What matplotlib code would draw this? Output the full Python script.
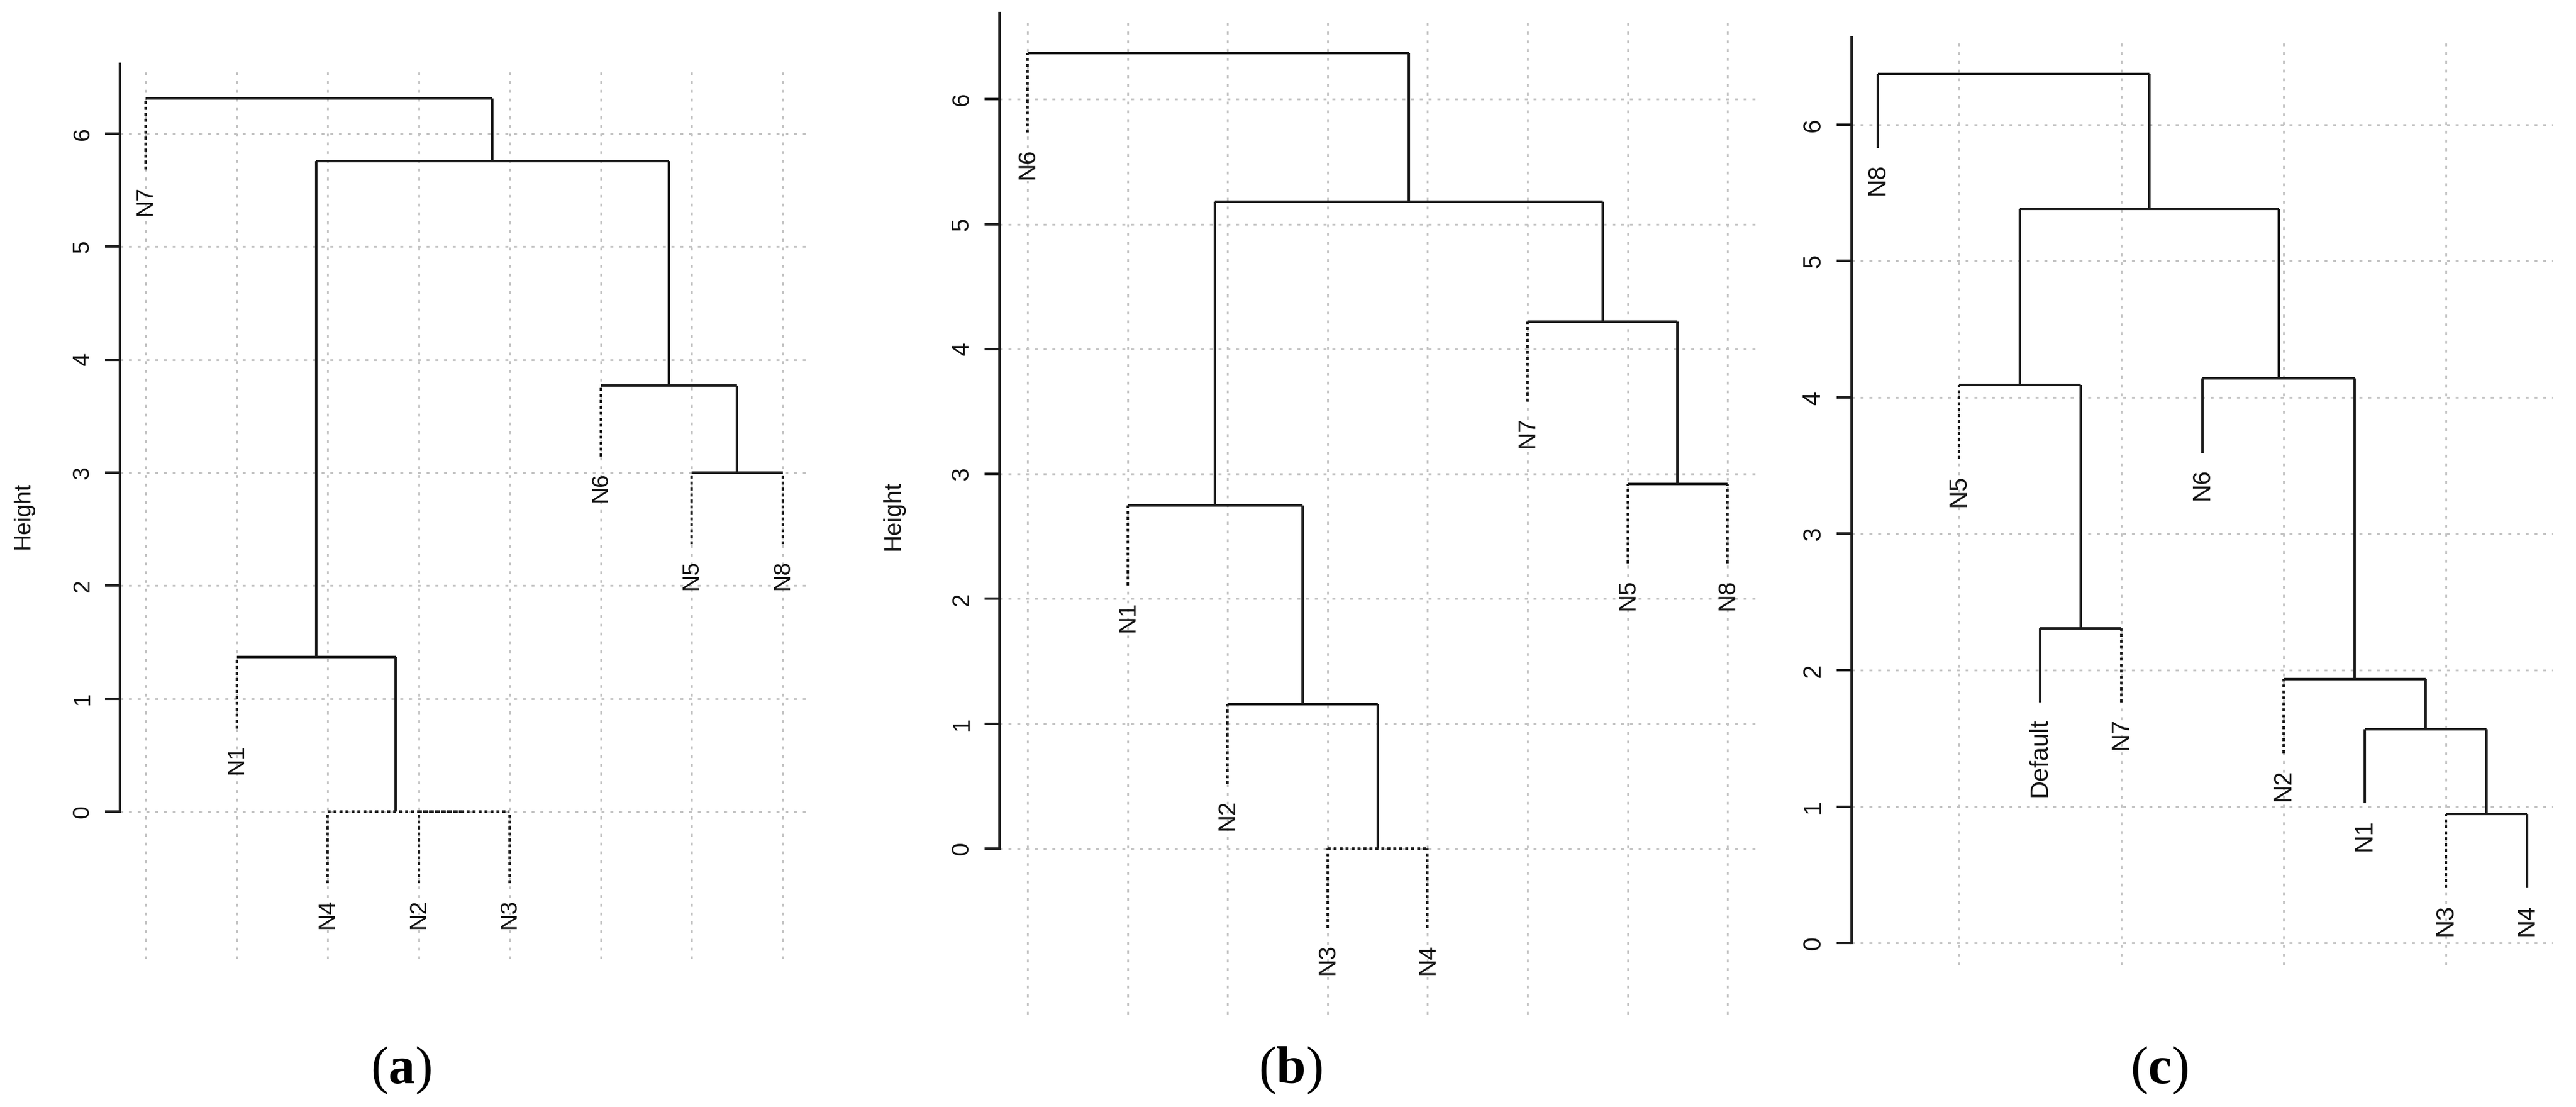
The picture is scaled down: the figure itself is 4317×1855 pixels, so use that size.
import matplotlib
matplotlib.use('Agg')
import matplotlib.pyplot as plt

plt.rcParams['font.family'] = ['Liberation Sans', 'DejaVu Sans']
plt.rcParams['mathtext.fontset'] = 'custom'
plt.rcParams['mathtext.rm'] = 'Liberation Serif'
plt.rcParams['mathtext.bf'] = 'Liberation Serif:bold'

# ---- data: leaf order, R-style merge matrix (neg = leaf, pos = earlier row), merge heights
labels_a = ['N7', 'N1', 'N4', 'N2', 'N3', 'N6', 'N5', 'N8']
merge_a = [(-4, -5), (-3, 1), (-2, 2), (-7, -8), (-6, 4), (3, 5), (-1, 6)]
height_a = [0.0, 0.0, 1.366, 3.0, 3.773, 5.757, 6.312]
dotted_a = [True, True, True, True, True, True, True, True]

labels_b = ['N6', 'N1', 'N2', 'N3', 'N4', 'N7', 'N5', 'N8']
merge_b = [(-4, -5), (-3, 1), (-2, 2), (-7, -8), (-6, 4), (3, 5), (-1, 6)]
height_b = [0.0, 1.155, 2.745, 2.921, 4.217, 5.179, 6.368]
dotted_b = [True, True, True, True, True, True, True, True]

labels_c = ['N8', 'N5', 'Default', 'N7', 'N6', 'N2', 'N1', 'N3', 'N4']
merge_c = [(-8, -9), (-7, 1), (-6, 2), (-3, -4), (-2, 4), (-5, 3), (5, 6), (-1, 7)]
height_c = [0.944, 1.566, 1.934, 2.308, 4.092, 4.138, 5.383, 6.374]
dotted_c = [False, True, False, True, False, True, False, True, False]

yticks = [0, 1, 2, 3, 4, 5, 6]
captions = ['a', 'b', 'c']

# ---- layout (pixels in the 4317x1855 picture)
W, H = 4317, 1855
layout = [
    dict(leaf1=244, step=152.5, y0=1360, unit=189.33, ylo=-1.305, yhi=6.586, axtop=6.62,
         fs=28, vgrid='all', ylab=(39, 864), cap=(672, 1794)),
    dict(leaf1=1722, step=167.6, y0=1422, unit=209.3, ylo=-1.326, yhi=6.64, axtop=6.69,
         fs=29, vgrid='all', ylab=(1497, 864), cap=(2162, 1794)),
    dict(leaf1=3147, step=136.0, y0=1580, unit=228.5, ylo=-0.162, yhi=6.6, axtop=6.64,
         fs=30, vgrid='even', ylab=None, cap=(3618, 1794)),
]

LINE = '#1c1c1c'
LW = 3.0
GRID = '#c4c4c4'


def draw_dendro(ax, labels, merge, heights, dotted, fs):
    hang = 0.1 * (max(heights) - min(heights))
    pos = {}
    for i, (a, b) in enumerate(merge):
        h = heights[i]
        xs = []
        for c in (a, b):
            if c < 0:
                x = -c
                ls = (0, (1.2, 1.2)) if dotted[x - 1] else '-'
                ax.plot([x, x], [h - hang, h], color=LINE, lw=LW, ls=ls, zorder=3,
                        solid_capstyle='butt')
                ax.annotate(labels[x - 1], (x, h - hang), xytext=(0, -19),
                            textcoords='offset points', rotation=90, ha='center',
                            va='top', fontsize=fs, color='#111111')
            else:
                x, hc = pos[c]
                ax.plot([x, x], [hc, h], color=LINE, lw=LW, zorder=3,
                        solid_capstyle='butt')
            xs.append(x)
        ls = (0, (1.2, 1.2)) if h == 0 else '-'
        ax.plot(xs, [h, h], color=LINE, lw=LW, ls=ls, zorder=3, solid_capstyle='butt')
        pos[i + 1] = ((xs[0] + xs[1]) / 2.0, h)


fig = plt.figure(figsize=(W / 100.0, H / 100.0), dpi=100)

panels = [(labels_a, merge_a, height_a, dotted_a),
          (labels_b, merge_b, height_b, dotted_b),
          (labels_c, merge_c, height_c, dotted_c)]

for (labels, merge, heights, dotted), lay, cap in zip(panels, layout, captions):
    n = len(labels)
    xlo = 1 - 0.04 * (n - 1)
    xhi = n + 0.04 * (n - 1)
    left_px = lay['leaf1'] + (xlo - 1) * lay['step']
    width_px = (xhi - xlo) * lay['step']
    top_px = lay['y0'] - lay['yhi'] * lay['unit']
    bot_px = lay['y0'] - lay['ylo'] * lay['unit']
    ax = fig.add_axes([left_px / W, 1 - bot_px / H, width_px / W, (bot_px - top_px) / H])
    ax.set_xlim(xlo, xhi)
    ax.set_ylim(lay['ylo'], lay['yhi'])

    for v in yticks:
        ax.axhline(v, color=GRID, lw=2.2, ls=(0, (1.6, 3.2)), zorder=1)
    if lay['vgrid'] == 'all':
        vx = range(1, n + 1)
    else:
        vx = range(2, n + 1, 2)
    for v in vx:
        ax.axvline(v, color=GRID, lw=2.2, ls=(0, (1.6, 3.2)), zorder=1)

    draw_dendro(ax, labels, merge, heights, dotted, lay['fs'])

    for s in ['top', 'right', 'bottom']:
        ax.spines[s].set_visible(False)
    ax.spines['left'].set_linewidth(LW)
    ax.spines['left'].set_color(LINE)
    ax.spines['left'].set_bounds(0, lay['axtop'])
    ax.set_xticks([])
    ax.set_yticks(yticks)
    ax.set_yticklabels([str(v) for v in yticks], rotation=90, va='center')
    ax.tick_params(axis='y', length=18, width=LW, pad=14, labelsize=lay['fs'],
                   color=LINE, labelcolor='#111111')
    ax.patch.set_visible(False)

    if lay['ylab'] is not None:
        fig.text(lay['ylab'][0] / W, 1 - lay['ylab'][1] / H, 'Height', rotation=90,
                 ha='center', va='center', fontsize=lay['fs'], color='#111111')
    fig.text(lay['cap'][0] / W, 1 - lay['cap'][1] / H, r'(' + r'$\mathbf{' + cap + r'}$' + ')',
             ha='center', va='center', fontsize=64, family='Liberation Serif')

fig.savefig('out.png', dpi=100, facecolor='white')
